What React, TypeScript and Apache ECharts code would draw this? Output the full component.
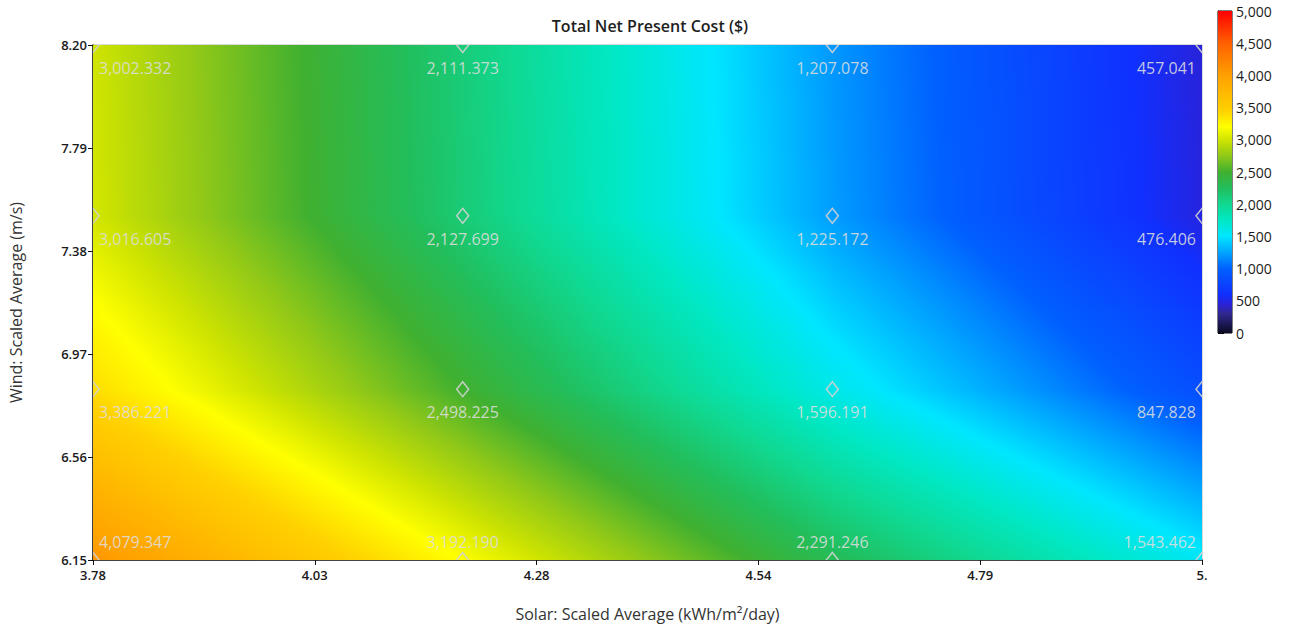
import React, { useEffect, useRef } from "react";
import * as echarts from "echarts";

// Sensitivity grid: solar scaled average (x) by wind scaled average (y)
const solarLevels = [3.78, 4.2, 4.62, 5.04];
const windLevels = [6.15, 6.83, 7.52, 8.2];

// Total net present cost ($), one row per wind level, columns follow solarLevels
const npcWind615 = [4079.347, 3192.19, 2291.246, 1543.462];
const npcWind683 = [3386.221, 2498.225, 1596.191, 847.828];
const npcWind752 = [3016.605, 2127.699, 1225.172, 476.406];
const npcWind820 = [3002.332, 2111.373, 1207.078, 457.041];
const npcRows = [npcWind615, npcWind683, npcWind752, npcWind820];

const xTickLabels = ["3.78", "4.03", "4.28", "4.54", "4.79", "5."];
const yTickLabels = ["6.15", "6.56", "6.97", "7.38", "7.79", "8.20"];

// Colour scale for the cost surface and its legend bar
const scaleValues = [0, 300, 450, 600, 1000, 1250, 1500, 1750, 2000, 2250, 2500, 2750, 3000, 3200, 3450, 4000, 4500, 5000];
const scaleColors = [
  "#0a0a20", "#302890", "#2a22d8", "#1030ff", "#0060ff", "#00a4ff", "#00e6ff", "#00e8c4",
  "#10d890", "#22be5c", "#40b030", "#90c818", "#cfe400", "#ffff00", "#ffd200", "#ffa000",
  "#ff6000", "#ff0000",
];
const scaleTicks = [0, 500, 1000, 1500, 2000, 2500, 3000, 3500, 4000, 4500, 5000];

const FONT = "'Open Sans', 'Noto Sans', sans-serif";

function hexToRgb(h: string): number[] {
  const n = parseInt(h.slice(1), 16);
  return [(n >> 16) & 255, (n >> 8) & 255, n & 255];
}
const scaleRgb = scaleColors.map(hexToRgb);

function colorAt(v: number): string {
  const lo = scaleValues[0];
  const hi = scaleValues[scaleValues.length - 1];
  const c = Math.max(lo, Math.min(hi, v));
  let k = 0;
  while (k < scaleValues.length - 2 && c > scaleValues[k + 1]) k++;
  const a = scaleValues[k];
  const b = scaleValues[k + 1];
  const t = (c - a) / (b - a);
  const ca = scaleRgb[k];
  const cb = scaleRgb[k + 1];
  const m = ca.map((x, i) => Math.round(x + (cb[i] - x) * t));
  return `rgb(${m[0]},${m[1]},${m[2]})`;
}

// Horizontal gradient whose colour follows the scale linearly in value from vl to vr
function valueGradient(vl: number, vr: number) {
  const stops: { offset: number; color: string }[] = [{ offset: 0, color: colorAt(vl) }];
  if (Math.abs(vr - vl) > 1e-9) {
    const inner = scaleValues
      .filter((s) => s > Math.min(vl, vr) && s < Math.max(vl, vr))
      .map((s) => ({ offset: (s - vl) / (vr - vl), color: colorAt(s) }))
      .sort((p, q) => p.offset - q.offset);
    stops.push(...inner);
  }
  stops.push({ offset: 1, color: colorAt(vr) });
  return { type: "linear", x: 0, y: 0, x2: 1, y2: 0, colorStops: stops };
}

const fmt = (v: number) =>
  v.toLocaleString("en-US", { minimumFractionDigits: 3, maximumFractionDigits: 3 });

export default function App() {
  const ref = useRef<HTMLDivElement>(null);

  useEffect(() => {
    document.body.style.margin = "0";
    if (!ref.current) return;
    const chart = echarts.init(ref.current, undefined, { renderer: "svg" });

    // one surface patch per pair of neighbouring grid lines
    const cells: number[][] = [];
    for (let r = 0; r < windLevels.length - 1; r++) {
      for (let c = 0; c < solarLevels.length - 1; c++) {
        cells.push([
          solarLevels[c], windLevels[r], solarLevels[c + 1], windLevels[r + 1],
          npcRows[r][c], npcRows[r][c + 1], npcRows[r + 1][c], npcRows[r + 1][c + 1],
        ]);
      }
    }

    const points: number[][] = [];
    windLevels.forEach((w, r) => {
      solarLevels.forEach((s, c) => {
        points.push([s, w, npcRows[r][c], c, r]);
      });
    });

    const xStep = 0.252;
    const yStep = 0.41;
    const xMin = solarLevels[0];
    const xMax = solarLevels[solarLevels.length - 1];
    const yMin = windLevels[0];
    const yMax = windLevels[windLevels.length - 1];
    const lastCol = solarLevels.length - 1;

    const tickLabelStyle = {
      fontFamily: FONT,
      fontSize: 13,
      fontWeight: 600,
      color: "#1a1a1a",
    };

    const option: any = {
      animation: false,
      backgroundColor: "#ffffff",
      title: {
        text: "Total Net Present Cost ($)",
        left: 645,
        textAlign: "center",
        top: 13,
        textStyle: { fontFamily: FONT, fontSize: 16, fontWeight: 600, color: "#1e1e1e" },
      },
      grid: [
        { left: 89, right: 88, top: 45, bottom: 69, show: true, borderColor: "#b4b4b4", borderWidth: 1, backgroundColor: "transparent" },
        { left: 1218, top: 11, width: 14, height: 322, show: true, borderColor: "#000", borderWidth: 1 },
      ],
      xAxis: [
        {
          type: "value",
          gridIndex: 0,
          min: xMin,
          max: xMax,
          interval: xStep,
          name: "Solar: Scaled Average (kWh/m\u00b2/day)",
          nameLocation: "middle",
          nameGap: 46,
          nameTextStyle: { fontFamily: FONT, fontSize: 16, color: "#333" },
          axisLine: { show: true, lineStyle: { color: "#111", width: 1.5 } },
          axisTick: { show: true, length: 5, lineStyle: { color: "#111" } },
          splitLine: { show: false },
          axisLabel: {
            ...tickLabelStyle,
            margin: 8,
            formatter: (v: number) => xTickLabels[Math.round((v - xMin) / xStep)] ?? "",
          },
        },
        { type: "value", gridIndex: 1, min: 0, max: 1, show: false },
      ],
      yAxis: [
        {
          type: "value",
          gridIndex: 0,
          min: yMin,
          max: yMax,
          interval: yStep,
          name: "Wind: Scaled Average (m/s)",
          nameLocation: "middle",
          nameGap: 69,
          nameTextStyle: { fontFamily: FONT, fontSize: 16, color: "#333" },
          axisLine: { show: true, lineStyle: { color: "#111", width: 1.5 } },
          axisTick: { show: true, length: 5, lineStyle: { color: "#111" } },
          splitLine: { show: false },
          axisLabel: {
            ...tickLabelStyle,
            margin: 6,
            formatter: (v: number) => yTickLabels[Math.round((v - yMin) / yStep)] ?? "",
          },
        },
        {
          type: "value",
          gridIndex: 1,
          position: "right",
          min: scaleTicks[0],
          max: scaleTicks[scaleTicks.length - 1],
          interval: 500,
          axisLine: { show: true, lineStyle: { color: "#000", width: 1 } },
          axisTick: { show: true, length: 6, lineStyle: { color: "#000" } },
          splitLine: { show: false },
          axisLabel: {
            fontFamily: FONT,
            fontSize: 14,
            fontWeight: 500,
            color: "#1a1a1a",
            margin: 4,
            formatter: (v: number) => v.toLocaleString("en-US"),
          },
        },
      ],
      series: [
        {
          type: "custom",
          xAxisIndex: 0,
          yAxisIndex: 0,
          clip: true,
          silent: true,
          encode: { x: [0, 2], y: [1, 3] },
          data: cells,
          renderItem: (params: any, api: any) => {
            const p0 = api.coord([api.value(0), api.value(1)]);
            const p1 = api.coord([api.value(2), api.value(3)]);
            const v00 = api.value(4);
            const v10 = api.value(5);
            const v01 = api.value(6);
            const v11 = api.value(7);
            const left = p0[0];
            const right = p1[0];
            const top = p1[1];
            const bottom = p0[1];
            const h = bottom - top;
            const n = Math.max(1, Math.ceil(h / 2));
            const children: any[] = [];
            for (let k = 0; k < n; k++) {
              const yt = top + (k * h) / n;
              const yb = top + ((k + 1) * h) / n;
              const t = ((yt + yb) / 2 - top) / h;
              const vl = v01 + (v00 - v01) * t;
              const vr = v11 + (v10 - v11) * t;
              children.push({
                type: "rect",
                shape: { x: left, y: yt, width: right - left + 0.8, height: yb - yt + 0.8 },
                style: { fill: valueGradient(vl, vr), stroke: null },
              });
            }
            return { type: "group", children };
          },
        },
        {
          type: "custom",
          xAxisIndex: 0,
          yAxisIndex: 0,
          clip: true,
          silent: true,
          encode: { x: 0, y: 1 },
          data: points,
          z: 5,
          renderItem: (params: any, api: any) => {
            const p = api.coord([api.value(0), api.value(1)]);
            const v = api.value(2);
            const col = api.value(3);
            const row = api.value(4);
            const hw = 6;
            const hh = 7.5;
            let tx = p[0];
            let align = "center";
            if (col === 0) {
              tx = p[0] + 6;
              align = "left";
            } else if (col === lastCol) {
              tx = p[0] - 6;
              align = "right";
            }
            const ty = row === 0 ? p[1] - 18 : p[1] + 23;
            return {
              type: "group",
              children: [
                {
                  type: "polygon",
                  shape: { points: [[p[0], p[1] - hh], [p[0] + hw, p[1]], [p[0], p[1] + hh], [p[0] - hw, p[1]]] },
                  style: { fill: "none", stroke: "rgba(210,210,210,0.9)", lineWidth: 1.5 },
                },
                {
                  type: "text",
                  x: tx,
                  y: ty,
                  style: {
                    text: fmt(v),
                    align,
                    verticalAlign: "middle",
                    fill: "rgba(222,222,222,0.88)",
                    fontFamily: FONT,
                    fontSize: 16,
                  },
                },
              ],
            };
          },
        },
        {
          type: "custom",
          xAxisIndex: 1,
          yAxisIndex: 1,
          silent: true,
          data: [[0, scaleTicks[0], 1, scaleTicks[scaleTicks.length - 1]]],
          encode: { x: [0, 2], y: [1, 3] },
          renderItem: (params: any, api: any) => {
            const pb = api.coord([api.value(0), api.value(1)]);
            const pt = api.coord([api.value(2), api.value(3)]);
            const vMax = api.value(3);
            const vMin = api.value(1);
            const stops = scaleValues.map((s) => ({
              offset: 1 - (s - vMin) / (vMax - vMin),
              color: colorAt(s),
            })).sort((a, b) => a.offset - b.offset);
            return {
              type: "rect",
              shape: { x: pb[0], y: pt[1], width: pt[0] - pb[0], height: pb[1] - pt[1] },
              style: { fill: { type: "linear", x: 0, y: 0, x2: 0, y2: 1, colorStops: stops } },
            };
          },
        },
      ],
    };

    chart.setOption(option);
    return () => chart.dispose();
  }, []);

  return <div ref={ref} style={{ width: 1290, height: 629 }} />;
}
